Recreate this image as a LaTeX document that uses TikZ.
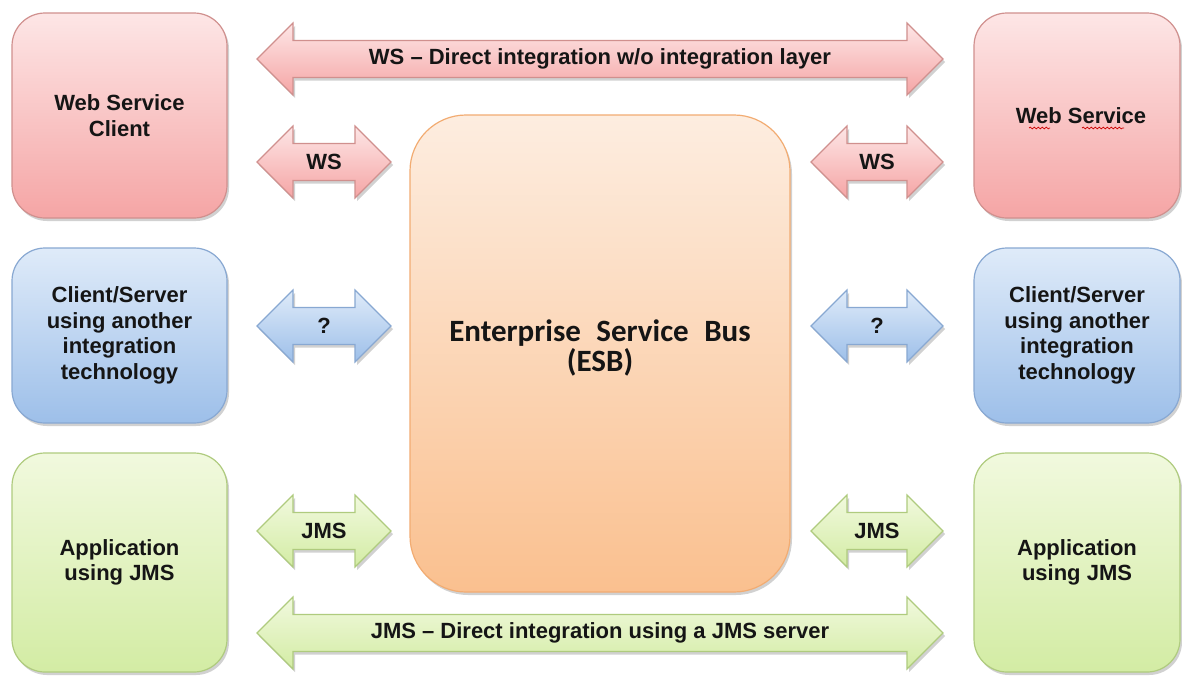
\documentclass[tikz,border=0pt]{standalone}
\usepackage{fontspec}
\setmainfont{Liberation Sans}
\newfontfamily\calb{Carlito}
\usetikzlibrary{shadows,decorations.pathmorphing}
\definecolor{pinkT}{HTML}{FDE6E6}
\definecolor{pinkB}{HTML}{F5A5A5}
\definecolor{pinkD}{HTML}{D0908E}
\definecolor{blueT}{HTML}{DFEBF9}
\definecolor{blueB}{HTML}{9DBFE9}
\definecolor{blueD}{HTML}{88A8D2}
\definecolor{greenT}{HTML}{F1F9DE}
\definecolor{greenB}{HTML}{D3ECA4}
\definecolor{greenD}{HTML}{AFCB7E}
\definecolor{orT}{HTML}{FDEDE0}
\definecolor{orB}{HTML}{FAC08F}
\definecolor{orD}{HTML}{F2AC72}
\definecolor{txt}{HTML}{151515}
\newcommand\dblarr[6]{%
  \path[#5] (#2,#4) -- (#2+36,#4-36) -- (#2+36,#4-18.5) -- (#3-36,#4-18.5)
    -- (#3-36,#4-36) -- (#3,#4) -- (#3-36,#4+36) -- (#3-36,#4+18.5)
    -- (#2+36,#4+18.5) -- (#2+36,#4+36) -- cycle;
  \node[lbl] (#1) at ({(#2+#3)/2},#4) {#6};}
\tikzset{
  shad/.style={drop shadow={shadow xshift=1pt,shadow yshift=-1.5pt,opacity=.18,fill=black}},
  box/.style={rounded corners=16.5pt, line width=0.6pt, align=center, text=txt,
    font=\fontsize{11}{12.8}\selectfont\bfseries, inner sep=0pt, shad},
  pinkbox/.style={box, draw=pinkD, top color=pinkT, bottom color=pinkB},
  bluebox/.style={box, draw=blueD, top color=blueT, bottom color=blueB},
  greenbox/.style={box, draw=greenD, top color=greenT, bottom color=greenB},
  esbbox/.style={rounded corners=28pt, line width=0.6pt, align=center, text=txt,
    draw=orD, top color=orT, bottom color=orB, shad},
  parr/.style={line width=0.6pt, draw=pinkD, top color=pinkT, bottom color=pinkB, shad},
  barr/.style={line width=0.6pt, draw=blueD, top color=blueT, bottom color=blueB, shad},
  garr/.style={line width=0.6pt, draw=greenD, top color=greenT, bottom color=greenB, shad},
  lbl/.style={text=txt, font=\fontsize{11}{12.8}\selectfont\bfseries, inner sep=0pt},
  squig/.style={draw=red!80!black, line width=0.35pt, decorate,
    decoration={snake, amplitude=0.45pt, segment length=2pt}}
}
\begin{document}
\begin{tikzpicture}[x=0.5pt,y=-0.5pt]
\useasboundingbox[fill=white] (0,0) rectangle (1182,675);
% left boxes
\node[pinkbox, minimum width=107.5pt, minimum height=102.5pt] (wsc) at (119.5,115.5) {Web Service\\Client};
\node[bluebox, minimum width=107.5pt, minimum height=87.5pt] (csl) at (119.5,335.5) {Client/Server\\using another\\integration\\technology};
\node[greenbox, minimum width=107.5pt, minimum height=109.5pt] (appl) at (119.5,562.5) {Application\\using JMS};
% right boxes
\node[pinkbox, minimum width=103pt, minimum height=102.5pt] (ws) at (1077,115.5) {};
\node[lbl] (wstext) at (1081,116) {Web Service};
\node[bluebox, minimum width=103pt, minimum height=87.5pt] (csr) at (1077,335.5) {Client/Server\\using another\\integration\\technology};
\node[greenbox, minimum width=103pt, minimum height=109.5pt] (appr) at (1077,562.5) {Application\\using JMS};
% ESB
\node[esbbox, minimum width=190pt, minimum height=238.5pt] (esb) at (600,353.5) {};
\node[text=txt, align=center, font=\calb\bfseries\fontsize{15.5}{14.8}\selectfont] (esbtext) at (600,348)
  {\spaceskip=.5em\relax Enterprise Service Bus\\(ESB)};
% arrows
\dblarr{topa}{257}{943}{59}{parr}{WS -- Direct integration w/o integration layer}
\dblarr{wsa}{257}{391}{162}{parr}{WS}
\dblarr{wsb}{811}{943}{162}{parr}{WS}
\dblarr{qa}{257}{391}{326}{barr}{?}
\dblarr{qb}{811}{943}{326}{barr}{?}
\dblarr{jmsa}{257}{391}{531}{garr}{JMS}
\dblarr{jmsb}{811}{943}{531}{garr}{JMS}
\dblarr{bota}{257}{943}{633}{garr}{JMS -- Direct integration using a JMS server}
% spell-check squiggles
\coordinate (s1a) at (1029,128); \coordinate (s1b) at (1050,128);
\coordinate (s2a) at (1082,128); \coordinate (s2b) at (1124,128);
\path[squig] (s1a) -- (s1b);
\path[squig] (s2a) -- (s2b);
\end{tikzpicture}
\end{document}
